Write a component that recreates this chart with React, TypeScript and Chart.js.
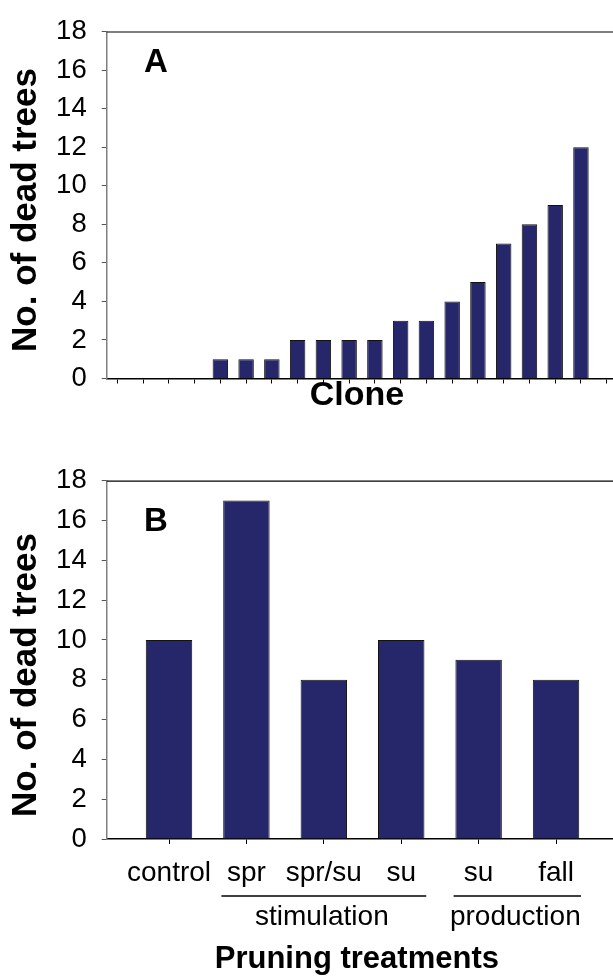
import React, { useEffect, useRef } from 'react';
import { Chart, registerables } from 'chart.js';

Chart.register(...registerables);

// ---------- data ----------
const cloneValues = [0, 0, 0, 0, 1, 1, 1, 2, 2, 2, 2, 3, 3, 4, 5, 7, 8, 9, 12, 0];
const treatmentLabels = ['control', 'spr', 'spr/su', 'su', 'su', 'fall'];
const treatmentValues = [10, 17, 8, 10, 9, 8];
const groupLabels = ['stimulation', 'production'];
const groupStart = [2, 5]; // 1-based category index
const groupEnd = [4, 6];
const yMin = 0;
const yMax = 18;
const yStep = 2;

// ---------- styles ----------
const FONT = "'Liberation Sans', Arial, Helvetica, sans-serif";
const BAR = '#26266a';
const W = 613;
const HA = 440;
const HB = 540;

function baseOptions(xMin: number, xMax: number, nTicks: number, topPad: number, xHeight: number, showLabels: boolean, labels: string[]) {
  return {
    animation: false,
    responsive: false,
    maintainAspectRatio: false,
    layout: { padding: { top: topPad, left: 0, right: 0, bottom: 0 } },
    plugins: { legend: { display: false }, tooltip: { enabled: false } },
    scales: {
      x: {
        type: 'linear',
        min: xMin,
        max: xMax,
        offset: false,
        afterBuildTicks: (s: any) => {
          const t = [];
          for (let i = 1; i <= nTicks; i++) t.push({ value: i });
          s.ticks = t;
        },
        afterFit: (s: any) => {
          s.height = xHeight;
        },
        grid: { offset: false, drawOnChartArea: false, drawTicks: true, tickLength: 5, color: '#000', lineWidth: 1 },
        border: { display: true, color: '#000', width: 1.5 },
        ticks: {
          display: showLabels,
          autoSkip: false,
          maxRotation: 0,
          minRotation: 0,
          padding: 12,
          color: '#000',
          font: { family: FONT, size: 28 },
          callback: (v: any) => labels[Math.round(v) - 1] ?? '',
        },
      },
      y: {
        min: yMin,
        max: yMax,
        afterFit: (s: any) => {
          s.width = 106.7;
        },
        ticks: { stepSize: yStep, color: '#000', padding: 15, font: { family: FONT, size: 27.5 } },
        grid: { drawOnChartArea: false, drawTicks: true, tickLength: 5, color: '#555' },
        border: { display: true, color: '#808080', width: 1.5 },
      },
    },
  };
}

function overlay(id: string, letter: string, letterY: number, titleCenterY: number, xTitle: string, xTitleSize: number, xTitleY: number, withGroups: boolean) {
  return {
    id,
    afterDraw(chart: any) {
      const ctx = chart.ctx as CanvasRenderingContext2D;
      const { left, right, top } = chart.chartArea;
      ctx.save();
      // top frame line
      ctx.strokeStyle = '#000';
      ctx.lineWidth = 1.2;
      ctx.beginPath();
      ctx.moveTo(left, top + 0.5);
      ctx.lineTo(right, top + 0.5);
      ctx.stroke();
      // panel letter
      ctx.fillStyle = '#000';
      ctx.font = `bold 33px ${FONT}`;
      ctx.textAlign = 'left';
      ctx.textBaseline = 'alphabetic';
      ctx.fillText(letter, 144, letterY);
      // y title
      ctx.save();
      ctx.translate(36, titleCenterY);
      ctx.rotate(-Math.PI / 2);
      ctx.font = `bold 35px ${FONT}`;
      ctx.textAlign = 'center';
      ctx.textBaseline = 'alphabetic';
      ctx.fillText('No. of dead trees', 0, 0);
      ctx.restore();
      // x title
      ctx.font = `bold ${xTitleSize}px ${FONT}`;
      ctx.textAlign = 'center';
      ctx.fillText(xTitle, (left + right) / 2 - 3, xTitleY);
      // groups
      if (withGroups) {
        const xs = chart.scales.x;
        ctx.font = `28px ${FONT}`;
        ctx.lineWidth = 1.5;
        for (let g = 0; g < groupLabels.length; g++) {
          const a = xs.getPixelForValue(groupStart[g]);
          const b = xs.getPixelForValue(groupEnd[g]);
          ctx.beginPath();
          ctx.moveTo(a - 25, 456);
          ctx.lineTo(b + 25, 456);
          ctx.stroke();
          ctx.fillText(groupLabels[g], (a + b) / 2 - 2, 485);
        }
      }
      ctx.restore();
    },
  };
}

export default function App() {
  const refA = useRef<HTMLCanvasElement>(null);
  const refB = useRef<HTMLCanvasElement>(null);

  useEffect(() => {
    const chartA = new Chart(refA.current as HTMLCanvasElement, {
      type: 'bar',
      data: {
        datasets: [
          {
            data: cloneValues.map((v, i) => ({ x: i + 1, y: v })),
            backgroundColor: BAR,
            borderColor: '#111',
            borderWidth: 1,
            barPercentage: 0.6,
            categoryPercentage: 1,
          },
        ],
      },
      options: baseOptions(0.588, 20.244, cloneValues.length, 20.7, HA - 378.5, false, []) as any,
      plugins: [overlay('ovA', 'A', 72, 210, 'Clone', 34, 405, false)],
    } as any);

    const chartB = new Chart(refB.current as HTMLCanvasElement, {
      type: 'bar',
      data: {
        datasets: [
          {
            data: treatmentValues.map((v, i) => ({ x: i + 1, y: v })),
            backgroundColor: BAR,
            borderColor: '#111',
            borderWidth: 1,
            barPercentage: 0.6,
            categoryPercentage: 1,
          },
        ],
      },
      options: baseOptions(0.195, 6.736, treatmentLabels.length, 40.7, HB - 399, true, treatmentLabels) as any,
      plugins: [overlay('ovB', 'B', 90.7, 235, 'Pruning treatments', 31, 528, true)],
    } as any);

    return () => {
      chartA.destroy();
      chartB.destroy();
    };
  }, []);

  return (
    <div style={{ position: 'absolute', left: 0, top: 0, width: W, height: 980, background: '#fff', overflow: 'hidden' }}>
      <canvas ref={refA} width={W} height={HA} style={{ display: 'block', width: W, height: HA }} />
      <canvas ref={refB} width={W} height={HB} style={{ display: 'block', width: W, height: HB }} />
    </div>
  );
}
